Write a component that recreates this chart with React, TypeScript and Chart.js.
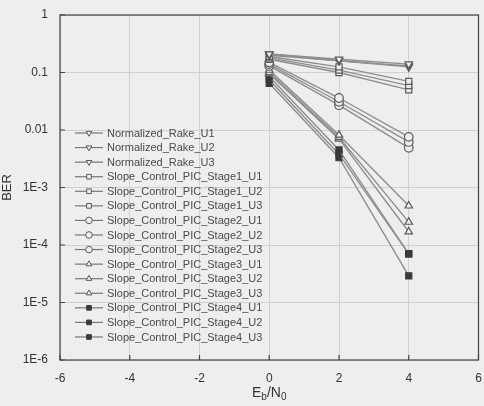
import React, { useEffect, useRef } from "react";
import { Chart, registerables } from "chart.js";
import { drawPoint } from "chart.js/helpers";

Chart.register(...registerables);

const xValues = [0, 2, 4];
const rakeU1 = [0.21, 0.17, 0.14];
const rakeU2 = [0.21, 0.16, 0.13];
const rakeU3 = [0.2, 0.16, 0.125];
const stage1U1 = [0.19, 0.125, 0.07];
const stage1U2 = [0.18, 0.11, 0.059];
const stage1U3 = [0.17, 0.1, 0.05];
const stage2U1 = [0.15, 0.036, 0.0076];
const stage2U2 = [0.14, 0.031, 0.0062];
const stage2U3 = [0.13, 0.027, 0.0049];
const stage3U1 = [0.11, 0.0082, 0.00048];
const stage3U2 = [0.1, 0.0075, 0.00025];
const stage3U3 = [0.095, 0.007, 0.00017];
const stage4U1 = [0.085, 0.0045, 0.00007];
const stage4U2 = [0.075, 0.0038, 0.00007];
const stage4U3 = [0.065, 0.0033, 0.000029];

const seriesNames = [
  "Normalized_Rake_U1",
  "Normalized_Rake_U2",
  "Normalized_Rake_U3",
  "Slope_Control_PIC_Stage1_U1",
  "Slope_Control_PIC_Stage1_U2",
  "Slope_Control_PIC_Stage1_U3",
  "Slope_Control_PIC_Stage2_U1",
  "Slope_Control_PIC_Stage2_U2",
  "Slope_Control_PIC_Stage2_U3",
  "Slope_Control_PIC_Stage3_U1",
  "Slope_Control_PIC_Stage3_U2",
  "Slope_Control_PIC_Stage3_U3",
  "Slope_Control_PIC_Stage4_U1",
  "Slope_Control_PIC_Stage4_U2",
  "Slope_Control_PIC_Stage4_U3",
];
const seriesValues = [
  rakeU1, rakeU2, rakeU3,
  stage1U1, stage1U2, stage1U3,
  stage2U1, stage2U2, stage2U3,
  stage3U1, stage3U2, stage3U3,
  stage4U1, stage4U2, stage4U3,
];
const yTickValues = [1, 0.1, 0.01, 1e-3, 1e-4, 1e-5, 1e-6];
const yTickLabels = ["1", "0.1", "0.01", "1E-3", "1E-4", "1E-5", "1E-6"];
const xTickValues = [-6, -4, -2, 0, 2, 4, 6];

const BG = "#eeeeec";
const FONT = "'Liberation Sans', Arial, sans-serif";

function styleFor(i: number) {
  const group = Math.floor(i / 3);
  const styles = ["triangle", "rect", "circle", "triangle", "rect"];
  const rot = group === 0 ? 180 : 0;
  const filled = group === 4;
  return {
    pointStyle: styles[group],
    rotation: rot,
    fill: filled ? "#3a3a3a" : BG,
    stroke: filled ? "#3a3a3a" : "#5a5a5a",
  };
}

export default function App() {
  const ref = useRef<HTMLCanvasElement | null>(null);
  useEffect(() => {
    document.body.style.margin = "0";
    const canvas = ref.current!;
    const datasets = seriesNames.map((name, i) => {
      const s = styleFor(i);
      return {
        label: name,
        data: xValues.map((x, j) => ({ x, y: seriesValues[i][j] })),
        borderColor: "#8e8e8e",
        borderWidth: 1.4,
        pointStyle: s.pointStyle as any,
        pointRotation: s.rotation,
        pointRadius: 4.3,
        pointBorderWidth: 1.2,
        pointBackgroundColor: s.fill,
        pointBorderColor: s.stroke,
        tension: 0,
      };
    });

    const bgPlugin = {
      id: "bg",
      beforeDraw(chart: any) {
        const c = chart.ctx;
        c.save();
        c.fillStyle = BG;
        c.fillRect(0, 0, chart.width, chart.height);
        c.restore();
      },
    };

    const decoPlugin = {
      id: "deco",
      afterDraw(chart: any) {
        const c = chart.ctx;
        const a = chart.chartArea;
        const xs = chart.scales.x;
        const ys = chart.scales.y;
        c.save();
        // frame
        c.strokeStyle = "#444";
        c.lineWidth = 1.2;
        c.strokeRect(a.left, a.top, a.right - a.left, a.bottom - a.top);
        // inward ticks
        c.beginPath();
        xTickValues.forEach((v) => {
          const px = xs.getPixelForValue(v);
          c.moveTo(px, a.bottom);
          c.lineTo(px, a.bottom - 5);
        });
        yTickValues.forEach((v) => {
          const py = ys.getPixelForValue(v);
          c.moveTo(a.left, py);
          c.lineTo(a.left + 5, py);
        });
        c.stroke();

        // legend
        const x0 = 75;
        const x1 = 103;
        const xm = 89;
        const y0 = 133;
        const dy = 14.57;
        c.font = `11px ${FONT}`;
        c.textBaseline = "middle";
        c.textAlign = "left";
        chart.data.datasets.forEach((ds: any, i: number) => {
          const y = y0 + i * dy;
          c.strokeStyle = "#777";
          c.lineWidth = 1.2;
          c.beginPath();
          c.moveTo(x0, y);
          c.lineTo(x1, y);
          c.stroke();
          c.fillStyle = ds.pointBackgroundColor;
          c.strokeStyle = ds.pointBorderColor;
          c.lineWidth = 1;
          drawPoint(c, { pointStyle: ds.pointStyle, rotation: ds.pointRotation, radius: 3.3, borderWidth: 1 }, xm, y);
          c.fillStyle = "#4a4a4a";
          c.fillText(ds.label, 107, y + 0.5);
        });

        // x title E_b/N_0
        const cx = (a.left + a.right) / 2;
        const ty = 397;
        c.fillStyle = "#333";
        c.textBaseline = "alphabetic";
        const big = `14px ${FONT}`;
        const small = `10px ${FONT}`;
        const parts = [
          { t: "E", f: big, dy: 0 },
          { t: "b", f: small, dy: 3 },
          { t: "/N", f: big, dy: 0 },
          { t: "0", f: small, dy: 3 },
        ];
        let total = 0;
        parts.forEach((p) => {
          c.font = p.f;
          total += c.measureText(p.t).width;
        });
        let px = cx - total / 2;
        parts.forEach((p) => {
          c.font = p.f;
          c.fillText(p.t, px, ty + p.dy);
          px += c.measureText(p.t).width;
        });
        c.restore();
      },
    };

    const chart = new Chart(canvas, {
      type: "line",
      data: { datasets },
      options: {
        animation: false,
        responsive: false,
        devicePixelRatio: 1,
        layout: { padding: { top: 15, right: 4, left: 0, bottom: 0 } },
        plugins: { legend: { display: false }, tooltip: { enabled: false } },
        scales: {
          x: {
            type: "linear",
            min: -6,
            max: 6,
            afterBuildTicks: (s: any) => {
              s.ticks = xTickValues.map((v) => ({ value: v }));
            },
            afterFit: (s: any) => {
              s.height = 46;
              s.paddingLeft = 0;
              s.paddingRight = 0;
            },
            ticks: {
              color: "#333",
              font: { family: FONT, size: 12 },
              padding: 11,
              maxRotation: 0,
              autoSkip: false,
            },
            grid: { color: "#d0d0ce", lineWidth: 1, drawTicks: false },
            border: { display: false },
          },
          y: {
            type: "logarithmic",
            min: 1e-6,
            max: 1,
            afterBuildTicks: (s: any) => {
              s.ticks = yTickValues.map((v) => ({ value: v }));
            },
            afterFit: (s: any) => {
              s.width = 60;
              s.paddingTop = 0;
              s.paddingBottom = 0;
            },
            ticks: {
              color: "#333",
              font: { family: FONT, size: 12 },
              padding: 12,
              autoSkip: false,
              callback: (v: any) => {
                const idx = yTickValues.findIndex((t) => Math.abs(Math.log10(t) - Math.log10(v)) < 1e-6);
                return idx >= 0 ? yTickLabels[idx] : "";
              },
            },
            title: {
              display: true,
              text: "BER",
              color: "#333",
              font: { family: FONT, size: 13 },
              padding: { top: 0, bottom: 0 },
            },
            grid: { color: "#d0d0ce", lineWidth: 1, drawTicks: false },
            border: { display: false },
          },
        },
      },
      plugins: [bgPlugin, decoPlugin],
    });
    return () => chart.destroy();
  }, []);
  return <canvas ref={ref} width={484} height={406} style={{ display: "block", width: 484, height: 406 }} />;
}
